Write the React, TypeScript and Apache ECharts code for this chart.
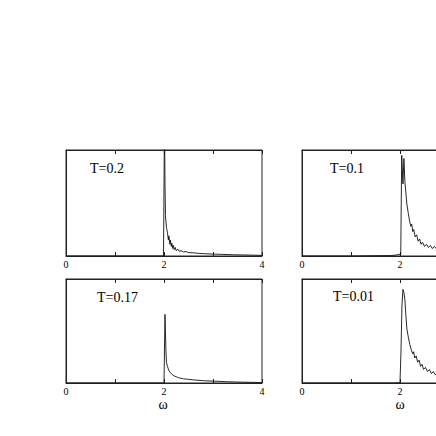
import React, { useEffect, useRef } from "react";
import * as echarts from "echarts";

// T = 0.2 (top left)
const omegaT02 = [0, 1.0, 1.99, 2.0, 2.01, 2.02, 2.03, 2.05, 2.07, 2.09, 2.1, 2.12, 2.13, 2.15, 2.16, 2.18, 2.19, 2.21, 2.23, 2.25, 2.28, 2.31, 2.35, 2.4, 2.45, 2.5, 2.6, 2.7, 2.8, 3.0, 3.2, 3.4, 3.6, 3.8, 4.0];
const specT02 = [0, 0, 0, 0, 1.3, 0.7, 0.38, 0.27, 0.22, 0.15, 0.19, 0.11, 0.15, 0.09, 0.12, 0.07, 0.1, 0.06, 0.08, 0.05, 0.065, 0.045, 0.05, 0.038, 0.042, 0.032, 0.03, 0.025, 0.022, 0.018, 0.015, 0.012, 0.01, 0.008, 0.006];

// T = 0.1 (top right)
const omegaT01 = [0, 1.0, 1.8, 1.9, 1.98, 2.0, 2.015, 2.035, 2.06, 2.08, 2.1, 2.14, 2.17, 2.2, 2.22, 2.24, 2.26, 2.28, 2.31, 2.34, 2.37, 2.4, 2.43, 2.46, 2.5, 2.54, 2.58, 2.62, 2.66, 2.7, 2.75, 2.8, 3.0, 3.5, 4.0];
const specT01 = [0, 0, 0.004, 0.008, 0.014, 0.018, 0.01, 0.95, 0.68, 0.92, 0.7, 0.49, 0.4, 0.32, 0.28, 0.3, 0.23, 0.25, 0.18, 0.2, 0.14, 0.16, 0.11, 0.13, 0.09, 0.11, 0.08, 0.1, 0.07, 0.09, 0.065, 0.08, 0.05, 0.03, 0.02];

// T = 0.17 (bottom left)
const omegaT017 = [0, 1.0, 2.0, 2.02, 2.04, 2.05, 2.07, 2.1, 2.13, 2.16, 2.2, 2.25, 2.3, 2.4, 2.5, 2.6, 2.8, 3.0, 3.3, 3.6, 4.0];
const specT017 = [0, 0, 0, 0.66, 0.3, 0.2, 0.16, 0.12, 0.1, 0.085, 0.07, 0.06, 0.05, 0.04, 0.035, 0.03, 0.022, 0.018, 0.012, 0.008, 0.004];

// T = 0.01 (bottom right)
const omegaT001 = [0, 1.0, 1.9, 1.99, 2.0, 2.02, 2.04, 2.06, 2.08, 2.1, 2.12, 2.14, 2.17, 2.2, 2.23, 2.26, 2.28, 2.3, 2.33, 2.36, 2.39, 2.42, 2.45, 2.48, 2.52, 2.56, 2.6, 2.64, 2.68, 2.72, 2.76, 2.8, 3.0, 3.5, 4.0];
const specT001 = [0, 0, 0, 0.005, 0.01, 0.3, 0.75, 0.9, 0.87, 0.8, 0.65, 0.52, 0.44, 0.37, 0.32, 0.28, 0.3, 0.24, 0.26, 0.2, 0.22, 0.16, 0.18, 0.13, 0.15, 0.11, 0.13, 0.09, 0.11, 0.08, 0.1, 0.07, 0.05, 0.03, 0.02];

const panelLabels = ["T=0.2", "T=0.1", "T=0.17", "T=0.01"];
const xTickLabelsLeft = ["0", "2", "4"];
const xTickLabelsRight = ["0", "2"]; // "4" falls outside the visible page
const xAxisName = "ω";

const FONT = "'Liberation Serif', 'DejaVu Serif', serif";

const pair = (xs: number[], ys: number[]) => xs.map((x, i) => [x, ys[i]]);

export default function App() {
  const ref = useRef<HTMLDivElement>(null);
  useEffect(() => {
    if (!ref.current) return;
    const chart = echarts.init(ref.current, undefined, { renderer: "svg" });
    const grids = [
      { left: 66, top: 150, width: 196, height: 106 },
      { left: 302, top: 150, width: 196, height: 106 },
      { left: 66, top: 279, width: 196, height: 104 },
      { left: 302, top: 279, width: 196, height: 104 },
    ];
    const datasets = [
      pair(omegaT02, specT02),
      pair(omegaT01, specT01),
      pair(omegaT017, specT017),
      pair(omegaT001, specT001),
    ];
    const xAxes: any[] = [];
    const yAxes: any[] = [];
    grids.forEach((_, i) => {
      const labels = i % 2 === 0 ? xTickLabelsLeft : xTickLabelsRight;
      xAxes.push({
        type: "value",
        gridIndex: i,
        min: 0,
        max: 4,
        interval: 1,
        position: "bottom",
        axisLine: { show: true, lineStyle: { color: "#222", width: 1 } },
        axisTick: { show: true, inside: true, length: 4, lineStyle: { color: "#222" } },
        axisLabel: {
          show: true,
          margin: 3,
          fontSize: 10,
          fontFamily: FONT,
          color: "#000",
          formatter: (v: number) => (labels.includes(String(v)) ? String(v) : ""),
        },
        splitLine: { show: false },
      });
      xAxes.push({
        type: "value",
        gridIndex: i,
        min: 0,
        max: 4,
        interval: 1,
        position: "top",
        axisLine: { show: true, lineStyle: { color: "#222", width: 1 } },
        axisTick: { show: true, inside: true, length: 4, lineStyle: { color: "#222" } },
        axisLabel: { show: false },
        splitLine: { show: false },
      });
      yAxes.push({
        type: "value",
        gridIndex: i,
        min: 0,
        max: 1,
        axisLine: { show: true, lineStyle: { color: "#222", width: 1 } },
        axisTick: { show: false },
        axisLabel: { show: false },
        splitLine: { show: false },
      });
    });
    const series = datasets.map((d, i) => ({
      type: "line",
      xAxisIndex: i * 2,
      yAxisIndex: i,
      data: d,
      showSymbol: false,
      symbol: "none",
      clip: true,
      lineStyle: { color: "#111", width: 0.9 },
    }));
    const labelPos = [
      [90, 168],
      [330, 168],
      [97, 297],
      [333, 296],
    ];
    const graphics: any[] = panelLabels.map((t, i) => ({
      type: "text",
      x: labelPos[i][0],
      y: labelPos[i][1],
      style: {
        text: t,
        fontSize: 14,
        fontFamily: FONT,
        fill: "#000",
        verticalAlign: "middle",
        align: "left",
      },
    }));
    [163, 400].forEach((x) =>
      graphics.push({
        type: "text",
        x,
        y: 404,
        style: {
          text: xAxisName,
          fontSize: 14,
          fontFamily: FONT,
          fill: "#000",
          align: "center",
          verticalAlign: "middle",
        },
      })
    );
    chart.setOption({
      animation: false,
      backgroundColor: "#fff",
      grid: grids.map((g) => ({ ...g, show: true, borderColor: "#222", borderWidth: 1, containLabel: false })),
      xAxis: xAxes,
      yAxis: yAxes,
      series,
      graphic: graphics,
    });
    return () => chart.dispose();
  }, []);
  return (
    <div style={{ position: "fixed", left: 0, top: 0, width: 436, height: 436, overflow: "hidden", background: "#fff" }}>
      <div ref={ref} style={{ width: 520, height: 436 }} />
    </div>
  );
}
